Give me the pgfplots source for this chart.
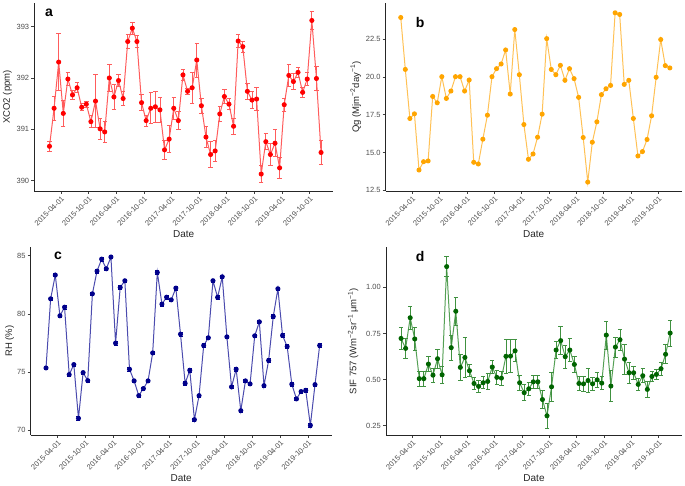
\documentclass[border=0pt]{standalone}
\usepackage{fontspec}
\setmainfont{Liberation Sans}
\usepackage{pgfplots}
\pgfplotsset{compat=1.18}
\usepackage{pgfplotstable}

\definecolor{tickgray}{HTML}{4D4D4D}
\definecolor{ared}{HTML}{FF0000}
\definecolor{aline}{HTML}{FF5C5C}
\definecolor{borange}{HTML}{FFA500}
\definecolor{bline}{HTML}{FFC155}
\definecolor{cnavy}{HTML}{00008B}
\definecolor{cline}{HTML}{4B4BAE}
\definecolor{dgreen}{HTML}{006400}
\definecolor{dline}{HTML}{55A055}

\pgfplotstableread{
x y e
0 390.67 0.10
1 391.41 0.23
2 392.31 0.55
3 391.31 0.25
4 391.98 0.12
5 391.67 0.09
6 391.81 0.10
7 391.43 0.07
8 391.49 0.06
9 391.15 0.12
10 391.55 0.52
11 391.01 0.21
12 390.95 0.20
13 392.00 0.26
14 391.63 0.24
15 391.95 0.12
16 391.60 0.13
17 392.71 0.13
18 392.97 0.12
19 392.71 0.11
20 391.52 0.16
21 391.17 0.11
22 391.41 0.30
23 391.44 0.30
24 391.38 0.24
25 390.60 0.19
26 390.81 0.26
27 391.41 0.21
28 391.17 0.18
29 392.06 0.10
30 391.74 0.06
31 391.81 0.30
32 392.35 0.33
33 391.46 0.14
34 390.85 0.21
35 390.51 0.26
36 390.58 0.21
37 391.30 0.15
38 391.64 0.13
39 391.49 0.11
40 391.06 0.16
41 392.72 0.12
42 392.61 0.11
43 391.74 0.15
44 391.57 0.16
45 391.59 0.23
46 390.13 0.16
47 390.76 0.16
48 390.51 0.22
49 390.73 0.26
50 390.25 0.20
51 391.48 0.13
52 392.05 0.21
53 391.93 0.16
54 392.11 0.10
55 391.72 0.09
56 391.98 0.12
57 393.12 0.17
58 391.99 0.24
59 390.55 0.23
}\dataA

\pgfplotstableread{
x y
0 23.94
1 20.50
2 17.25
3 17.56
4 13.84
5 14.39
6 14.44
7 18.71
8 18.29
9 20.02
10 18.58
11 19.07
12 20.02
13 20.02
14 19.07
15 19.80
16 14.35
17 14.24
18 15.88
19 17.47
20 20.02
21 20.55
22 20.86
23 21.79
24 18.87
25 23.14
26 20.15
27 16.85
28 14.55
29 14.90
30 16.01
31 17.54
32 22.54
33 20.50
34 20.15
35 20.77
36 19.78
37 20.55
38 19.89
39 18.65
40 15.99
41 13.04
42 15.68
43 17.03
44 18.83
45 19.22
46 19.44
47 24.25
48 24.14
49 19.51
50 19.78
51 17.25
52 14.77
53 15.06
54 15.86
55 17.43
56 19.98
57 22.48
58 20.75
59 20.60
}\dataB

\pgfplotstableread{
x y
0 75.36
1 81.30
2 83.34
3 79.84
4 80.58
5 74.79
6 75.65
7 71.03
8 74.96
9 74.27
10 81.73
11 83.68
12 84.71
13 83.88
14 84.89
15 77.49
16 82.28
17 82.85
18 75.25
19 74.25
20 72.98
21 73.59
22 74.25
23 76.65
24 83.57
25 80.84
26 81.44
27 81.21
28 82.22
29 78.26
30 74.04
31 75.16
32 70.92
33 72.98
34 77.29
35 77.95
36 82.85
37 81.42
38 83.19
39 78.03
40 73.73
41 75.25
42 71.69
43 74.25
44 73.99
45 78.12
46 79.32
47 73.84
48 76.00
49 79.78
50 82.16
51 78.15
52 77.20
53 73.96
54 72.70
55 73.33
56 73.44
57 70.43
58 73.93
59 77.29
}\dataC

\pgfplotstableread{
x y e
0 0.723 0.059
1 0.669 0.052
2 0.835 0.061
3 0.720 0.061
4 0.505 0.042
5 0.505 0.042
6 0.584 0.039
7 0.524 0.038
8 0.613 0.050
9 0.526 0.048
10 1.112 0.054
11 0.673 0.069
12 0.870 0.077
13 0.566 0.070
14 0.620 0.110
15 0.548 0.032
16 0.479 0.033
17 0.463 0.033
18 0.483 0.032
19 0.490 0.042
20 0.568 0.036
21 0.512 0.039
22 0.508 0.039
23 0.626 0.090
24 0.627 0.090
25 0.656 0.060
26 0.483 0.040
27 0.429 0.043
28 0.450 0.036
29 0.488 0.034
30 0.488 0.036
31 0.392 0.048
32 0.304 0.066
33 0.461 0.080
34 0.660 0.045
35 0.711 0.077
36 0.624 0.063
37 0.660 0.063
38 0.582 0.045
39 0.479 0.036
40 0.477 0.039
41 0.495 0.063
42 0.477 0.036
43 0.499 0.041
44 0.481 0.036
45 0.741 0.076
46 0.465 0.083
47 0.676 0.054
48 0.716 0.056
49 0.611 0.081
50 0.537 0.056
51 0.537 0.036
52 0.474 0.034
53 0.521 0.038
54 0.447 0.042
55 0.517 0.027
56 0.528 0.027
57 0.559 0.036
58 0.637 0.052
59 0.752 0.070
}\dataD

\tikzset{letter/.style={font=\bfseries\fontsize{14}{16}\selectfont, anchor=center}}

\pgfplotsset{
  panel/.style={
    scale only axis,
    height=188pt,
    axis lines=left,
    axis line style={-, line width=0.7pt, black!85},
    tick align=outside,
    major tick length=3pt,
    tick style={black!75, line width=0.6pt},
    xmin=-3.3, xmax=61.6,
    xtick={2.5,8.5,14.5,20.5,26.5,32.5,38.5,44.5,50.5,56.5},
    xticklabels={2015-04-01,2015-10-01,2016-04-01,2016-10-01,2017-04-01,2017-10-01,2018-04-01,2018-10-01,2019-04-01,2019-10-01},
    xticklabel style={rotate=45, anchor=north east, inner sep=1pt, font=\fontsize{7.5}{9}\selectfont, text=tickgray},
    yticklabel style={inner sep=2pt, font=\fontsize{7.5}{9}\selectfont, text=tickgray},
    /pgf/number format/assume math mode=true,
    xlabel={Date},
    every axis x label/.style={at={(axis description cs:0.5,-0.229)}, anchor=center, font=\fontsize{10}{12}\selectfont, text=black!85},
    clip=false,
  },
}

\begin{document}
\begin{tikzpicture}
\path[use as bounding box] (0,0) rectangle (685pt,486pt);

% Panel a
\begin{axis}[panel, at={(34.3pt,295pt)}, anchor=south west, width=298.7pt,
  ymin=389.80, ymax=393.46,
  ytick={390,391,392,393}, yticklabels={390,391,392,393},
  ylabel={XCO2 (ppm)},
  every axis y label/.style={at={(axis description cs:-0.090,0.5)}, rotate=90, anchor=center, font=\fontsize{9.5}{11}\selectfont, text=black!85}]
\addplot[color=aline, line width=1pt, mark=*, mark size=2pt, mark options={fill=ared, draw=ared},
  error bars/.cd, y dir=both, y explicit,
  error bar style={color=aline, line width=0.8pt},
  error mark options={rotate=90, mark size=2.2pt, color=aline, line width=0.8pt}]
  table[x=x, y=y, y error=e] {\dataA};
\node[letter] at (axis description cs:0.049,0.947) {a};
\end{axis}

% Panel b
\begin{axis}[panel, at={(385.7pt,295pt)}, anchor=south west, width=296pt,
  ymin=12.45, ymax=24.90,
  ytick={12.5,15,17.5,20,22.5}, yticklabels={12.5,15.0,17.5,20.0,22.5},
  ylabel={Qg (Mjm\textsuperscript{−2}day\textsuperscript{−1})},
  every axis y label/.style={at={(axis description cs:-0.101,0.5)}, rotate=90, anchor=center, font=\fontsize{9.5}{11}\selectfont, text=black!85}]
\addplot[color=bline, line width=1pt, mark=*, mark size=2pt, mark options={fill=borange, draw=borange}]
  table[x=x, y=y] {\dataB};
\node[letter] at (axis description cs:0.116,0.894) {b};
\end{axis}

% Panel c
\begin{axis}[panel, at={(30.7pt,51pt)}, anchor=south west, width=301pt,
  ymin=69.6, ymax=85.75,
  ytick={70,75,80,85}, yticklabels={70,75,80,85},
  ylabel={RH (\%)},
  every axis y label/.style={at={(axis description cs:-0.070,0.5)}, rotate=90, anchor=center, font=\fontsize{9.5}{11}\selectfont, text=black!85}]
\addplot[color=cline, line width=1pt, mark=*, mark size=2pt, mark options={fill=cnavy, draw=cnavy},
  error bars/.cd, y dir=both, y fixed=0.15,
  error bar style={color=cnavy, line width=0.6pt},
  error mark options={rotate=90, mark size=2pt, color=cnavy, line width=0.6pt}]
  table[x=x, y=y] {\dataC};
\node[letter] at (axis description cs:0.091,0.952) {c};
\end{axis}

% Panel d
\begin{axis}[panel, at={(386pt,51pt)}, anchor=south west, width=296pt,
  ymin=0.20, ymax=1.218,
  ytick={0.25,0.5,0.75,1}, yticklabels={0.25,0.50,0.75,1.00},
  ylabel={SIF 757 (Wm\textsuperscript{−2}sr\textsuperscript{−1}\,μm\textsuperscript{−1})},
  every axis y label/.style={at={(axis description cs:-0.111,0.5)}, rotate=90, anchor=center, font=\fontsize{9.5}{11}\selectfont, text=black!85}]
\addplot[color=dline, line width=1pt, mark=*, mark size=2pt, mark options={fill=dgreen, draw=dgreen},
  error bars/.cd, y dir=both, y explicit,
  error bar style={color=dline!75!dgreen, line width=0.8pt},
  error mark options={rotate=90, mark size=2.2pt, color=dline!75!dgreen, line width=0.8pt}]
  table[x=x, y=y, y error=e] {\dataD};
\node[letter] at (axis description cs:0.115,0.947) {d};
\end{axis}
\end{tikzpicture}
\end{document}
